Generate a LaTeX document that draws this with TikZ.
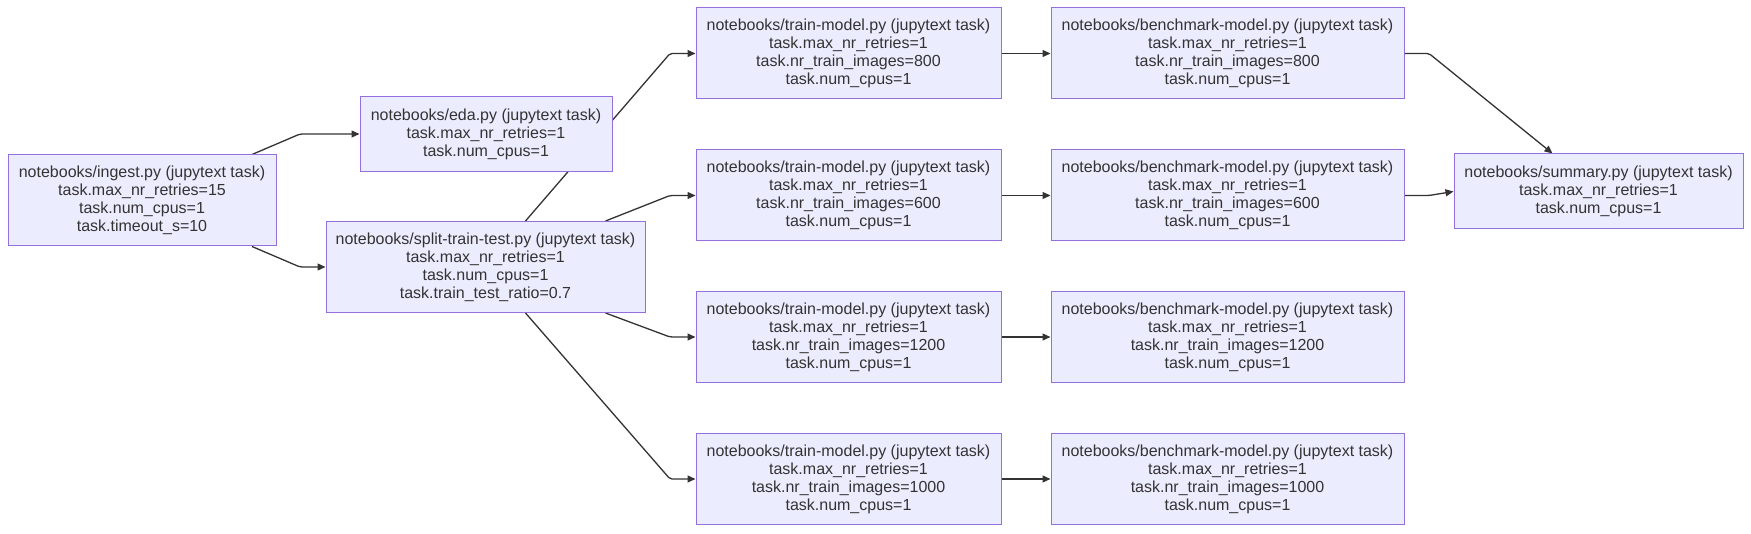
\documentclass[tikz,border=0pt]{standalone}
\usepackage{fontspec}
\setmainfont{Liberation Sans}
\usetikzlibrary{arrows.meta,backgrounds}
\definecolor{boxfill}{HTML}{ECECFF}
\definecolor{boxline}{HTML}{9370DB}
\definecolor{ink}{HTML}{333333}
\tikzset{
  task/.style={draw=boxline, fill=boxfill, line width=1pt, inner sep=0pt,
    align=center, text=ink, font=\fontsize{16}{18}\selectfont},
  w4/.style={minimum height=91pt},
  w3/.style={minimum height=75pt},
  edge/.style={draw=ink, line width=1.3pt, rounded corners=2pt,
    -{Triangle[length=8pt,width=7pt]}}
}
\begin{document}
\begin{tikzpicture}[x=1pt,y=-1pt]
\useasboundingbox (0,0) rectangle (1751,534);
\node[task,w4,minimum width=268pt] (ingest) at (142,200.5)
  {notebooks/ingest.py (jupytext task)\\task.max\_nr\_retries=15\\task.num\_cpus=1\\task.timeout\_s=10};
\node[task,w3,minimum width=252pt] (eda) at (486,134)
  {notebooks/eda.py (jupytext task)\\task.max\_nr\_retries=1\\task.num\_cpus=1};
\node[task,w4,minimum width=319pt] (split) at (485.5,267)
  {notebooks/split-train-test.py (jupytext task)\\task.max\_nr\_retries=1\\task.num\_cpus=1\\task.train\_test\_ratio=0.7};
\node[task,w4,minimum width=305pt] (trainA) at (848.5,53.5)
  {notebooks/train-model.py (jupytext task)\\task.max\_nr\_retries=1\\task.nr\_train\_images=800\\task.num\_cpus=1};
\node[task,w4,minimum width=305pt] (trainB) at (848.5,195.5)
  {notebooks/train-model.py (jupytext task)\\task.max\_nr\_retries=1\\task.nr\_train\_images=600\\task.num\_cpus=1};
\node[task,w4,minimum width=305pt] (trainC) at (848.5,337)
  {notebooks/train-model.py (jupytext task)\\task.max\_nr\_retries=1\\task.nr\_train\_images=1200\\task.num\_cpus=1};
\node[task,w4,minimum width=305pt] (trainD) at (848.5,479)
  {notebooks/train-model.py (jupytext task)\\task.max\_nr\_retries=1\\task.nr\_train\_images=1000\\task.num\_cpus=1};
\node[task,w4,minimum width=353pt] (benchA) at (1227.5,53.5)
  {notebooks/benchmark-model.py (jupytext task)\\task.max\_nr\_retries=1\\task.nr\_train\_images=800\\task.num\_cpus=1};
\node[task,w4,minimum width=353pt] (benchB) at (1227.5,195.5)
  {notebooks/benchmark-model.py (jupytext task)\\task.max\_nr\_retries=1\\task.nr\_train\_images=600\\task.num\_cpus=1};
\node[task,w4,minimum width=353pt] (benchC) at (1227.5,337)
  {notebooks/benchmark-model.py (jupytext task)\\task.max\_nr\_retries=1\\task.nr\_train\_images=1200\\task.num\_cpus=1};
\node[task,w4,minimum width=353pt] (benchD) at (1227.5,479)
  {notebooks/benchmark-model.py (jupytext task)\\task.max\_nr\_retries=1\\task.nr\_train\_images=1000\\task.num\_cpus=1};
\node[task,w3,minimum width=289pt] (summary) at (1598.5,191.5)
  {notebooks/summary.py (jupytext task)\\task.max\_nr\_retries=1\\task.num\_cpus=1};
\begin{pgfonlayer}{background}
\draw[edge] ([xshift=110pt]ingest.north) -- (300,134) -- (eda.west);
\draw[edge] ([xshift=110pt]ingest.south) -- (300,267) -- (split.west);
\draw[edge] ([xshift=40pt]split.north) -- (670,53.5) -- (trainA.west);
\draw[edge] ([xshift=120pt]split.north) -- (670,195.5) -- (trainB.west);
\draw[edge] ([xshift=120pt]split.south) -- (670,337) -- (trainC.west);
\draw[edge] ([xshift=40pt]split.south) -- (670,479) -- (trainD.west);
\draw[edge] (trainA.east) -- (benchA.west);
\draw[edge] (trainB.east) -- (benchB.west);
\draw[edge] (trainC.east) -- (benchC.west);
\draw[edge] (trainD.east) -- (benchD.west);
\draw[edge] (benchA.east) -- (1429,53.5) -- ([xshift=-46pt]summary.north);
\draw[edge] (benchB.east) -- (1429,195.5) -- (summary.west);
\end{pgfonlayer}
\end{tikzpicture}
\end{document}
